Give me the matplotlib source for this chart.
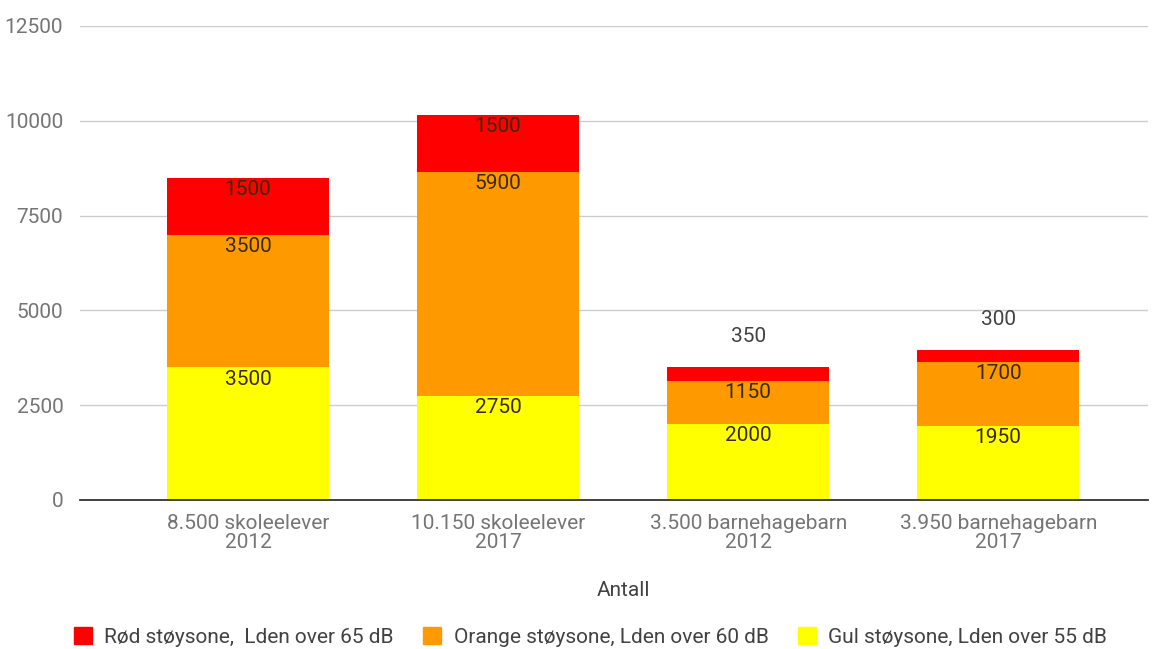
import matplotlib
matplotlib.use('Agg')
import matplotlib.pyplot as plt
from matplotlib import rcParams
from matplotlib.patches import Patch
import numpy as np

rcParams['font.family'] = ['Roboto', 'DejaVu Sans']
rcParams['font.size'] = 15

categories = ['8.500 skoleelever\n2012', '10.150 skoleelever\n2017',
              '3.500 barnehagebarn\n2012', '3.950 barnehagebarn\n2017']
gul = [3500, 2750, 2000, 1950]
orange = [3500, 5900, 1150, 1700]
rod = [1500, 1500, 350, 300]

series = [('Gul støysone, Lden over 55 dB', gul, '#ffff00'),
          ('Orange støysone, Lden over 60 dB', orange, '#ff9900'),
          ('Rød støysone,  Lden over 65 dB', rod, '#ff0000')]

fig = plt.figure(figsize=(11.54, 6.49), dpi=100)
ax = fig.add_axes([0.0693, 0.2296, 0.9257, 0.7304])

x = np.arange(len(categories))
bottom = np.zeros(len(categories))
for name, vals, col in series:
    vals = np.array(vals, dtype=float)
    ax.bar(x, vals, 0.65, bottom=bottom, color=col, zorder=2)
    for xi, b, v in zip(x, bottom, vals):
        top = b + v
        if v < 600:
            ax.annotate(f'{int(v)}', (xi, top), xytext=(0, 22), textcoords='offset points',
                        ha='center', va='center', color='#424242', fontsize=15)
        else:
            ax.annotate(f'{int(v)}', (xi, top), xytext=(0, -8.5), textcoords='offset points',
                        ha='center', va='center', color='#3a2a00', fontsize=15)
    bottom += vals

ax.set_ylim(0, 12500)
ax.set_xlim(-0.672, 3.6)
ax.set_yticks([0, 2500, 5000, 7500, 10000, 12500])
ax.set_xticks(x)
ax.set_xticklabels(categories, color='#757575', linespacing=1.0)
ax.tick_params(axis='y', colors='#757575', length=0, pad=12, labelsize=15)
ax.tick_params(axis='x', length=0, pad=10, labelsize=15)
ax.grid(axis='y', color='#cccccc', linewidth=1, zorder=0)
for s in ['top', 'right', 'left']:
    ax.spines[s].set_visible(False)
ax.spines['bottom'].set_color('#333333')
ax.spines['bottom'].set_linewidth(1.3)
ax.spines['bottom'].set_zorder(3)
ax.set_xlabel('Antall', color='#424242', fontsize=15)
ax.xaxis.set_label_coords((623 - 80) / 1068, -0.171)

handles = [Patch(color=c, label=n) for n, _, c in series[::-1]]
leg = fig.legend(handles=handles, loc='center left', bbox_to_anchor=(0.064, 0.018), ncol=3,
                 frameon=False, fontsize=15, handlelength=0.87, handleheight=0.87,
                 columnspacing=1.4, handletextpad=0.6, labelcolor='#424242',
                 borderpad=0, borderaxespad=0)

plt.savefig('out.png', dpi=100)
